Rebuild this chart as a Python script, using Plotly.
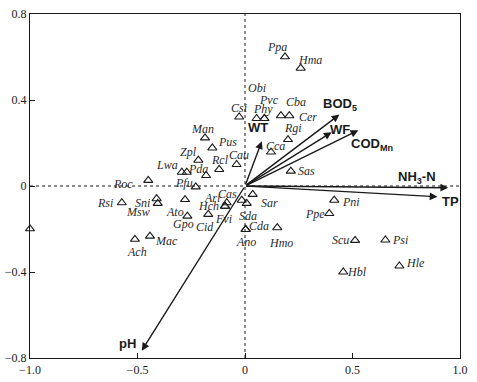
import plotly.graph_objects as go

# ---- species scores (axis 1, axis 2) ----
species = ["Ppa", "Hma", "Csi", "Obi", "Phy", "Pvc", "Cba", "Cer", "Rgi", "Cca", "Sas",
           "Man", "Pus", "Zpl", "Lwa", "", "Pda", "Rcl", "Cau", "Pfu", "Roc", "Rsi",
           "Sni", "Msw", "Ato", "Gpo", "Cid", "Ach", "Mac", "Ari", "Hch", "Fvi", "Cas",
           "Sda", "Sar", "Ano", "Cda", "Hmo", "Pni", "Ppe", "Scu", "Psi", "Hle", "Hbl", ""]
sp_x = [0.186, 0.259, -0.027, 0.054, 0.090, 0.090, 0.167, 0.206, 0.200, 0.121, 0.213,
        -0.186, -0.152, -0.217, -0.294, -0.271, -0.181, -0.120, -0.039, -0.229, -0.450, -0.573,
        -0.411, -0.406, -0.279, -0.268, -0.171, -0.512, -0.442, -0.085, -0.093, -0.093, -0.015,
        0.008, 0.036, 0.003, 0.003, 0.150, 0.415, 0.392, 0.512, 0.653, 0.718, 0.457, -1.0]
sp_y = [0.601, 0.548, 0.321, 0.314, 0.314, 0.314, 0.327, 0.327, 0.216, 0.158, 0.069,
        0.224, 0.177, 0.120, 0.064, 0.064, 0.049, 0.077, 0.100, -0.004, 0.026, -0.078,
        -0.059, -0.081, -0.063, -0.140, -0.132, -0.248, -0.233, -0.078, -0.094, -0.094, -0.066,
        -0.081, -0.039, -0.202, -0.202, -0.194, -0.066, -0.128, -0.253, -0.251, -0.372, -0.400, -0.199]

# label offsets in pixels (style only)
lab_dx = [-8, 9, 0, 0, -1, 5, 15, 19, 5, 4, 16,
          -3, 15, -10, -15, 0, -8, 1, 2, -12, -25, -17,
          -14, -20, -10, -4, -3, 2, 17, -15, -17, -2, -14,
          1, 17, 0, 13, 4, 17, -14, -15, 15, 16, 14, 0]
lab_dy = [10, 8, 9, 30, 9, 18, 14, -1, 12, 6, 0,
          9, 6, 8, 7, 0, 6, 9, 10, 4, -4, 0,
          -4, -9, -12, -8, -13, -13, -5, 5, 0, -13, 6,
          -13, -9, -13, 3, -15, -2, 0, 0, 0, 3, 0, 0]

# ---- environmental vectors ----
env_names = ["WT", "BOD<sub>5</sub>", "WF", "COD<sub>Mn</sub>", "NH<sub>3</sub>-N", "TP", "pH"]
env_x = [0.078, 0.439, 0.403, 0.527, 0.945, 0.895, -0.480]
env_y = [0.208, 0.332, 0.250, 0.259, -0.008, -0.050, -0.766]
env_dx = [-4, 1, 8, 14, -31, 13, -14]
env_dy = [14, 10, 3, -14, 10, -5, 7]

x_ticks = [-1.0, -0.5, 0, 0.5, 1.0]
x_ticktext = ["\u22121.0", "\u22120.5", "0", "0.5", "1.0"]
y_ticks = [0.8, 0.4, 0, -0.4, -0.8]
y_ticktext = ["0.8", "0.4", "0", "\u22120.4", "\u22120.8"]

INK = "#1a1a1a"
SERIF = "Liberation Serif, Times New Roman, serif"
SANS = "Liberation Sans, Arial, sans-serif"

fig = go.Figure()

fig.add_trace(go.Scatter(
    x=sp_x, y=sp_y, mode="markers",
    marker=dict(symbol="triangle-up-open", size=8, color=INK, line=dict(width=1.1, color=INK)),
    cliponaxis=False, hoverinfo="skip", showlegend=False))

annotations = []
for name, x, y, dx, dy in zip(species, sp_x, sp_y, lab_dx, lab_dy):
    if not name:
        continue
    annotations.append(dict(x=x, y=y, xref="x", yref="y", text="<i>" + name + "</i>",
                            showarrow=False, xshift=dx, yshift=dy,
                            font=dict(family=SERIF, size=12, color="#2a2a2a")))

for name, x, y, dx, dy in zip(env_names, env_x, env_y, env_dx, env_dy):
    annotations.append(dict(x=x, y=y, xref="x", yref="y", ax=0, ay=0, axref="x", ayref="y",
                            text="", showarrow=True, arrowhead=2, arrowsize=1.1,
                            arrowwidth=1.4, arrowcolor=INK, standoff=0, startstandoff=0))
    annotations.append(dict(x=x, y=y, xref="x", yref="y", text="<b>" + name + "</b>",
                            showarrow=False, xshift=dx, yshift=dy,
                            font=dict(family=SANS, size=13, color=INK)))

shapes = [
    dict(type="line", xref="x", yref="y", x0=-1, x1=1, y0=0, y1=0,
         line=dict(color=INK, width=1, dash="dot"), layer="below"),
    dict(type="line", xref="x", yref="y", x0=0, x1=0, y0=-0.8, y1=0.8,
         line=dict(color=INK, width=1, dash="dot"), layer="below"),
]

axis_common = dict(showgrid=False, zeroline=False, showline=True, mirror=True,
                   linecolor=INK, linewidth=1.2, ticks="inside", ticklen=5,
                   tickwidth=1, tickcolor=INK, automargin=False,
                   tickfont=dict(family=SERIF, size=12, color=INK))

fig.update_layout(
    width=477, height=382,
    margin=dict(l=30, r=17, t=14, b=24),
    paper_bgcolor="white", plot_bgcolor="white",
    font=dict(family=SERIF, color=INK),
    xaxis=dict(range=[-1, 1], tickvals=x_ticks, ticktext=x_ticktext, **axis_common),
    yaxis=dict(range=[-0.8, 0.8], tickvals=y_ticks, ticktext=y_ticktext, **axis_common),
    annotations=annotations, shapes=shapes,
)

fig.write_html("out.html", config={"displayModeBar": False},
               post_script="document.body.style.margin='0';")
